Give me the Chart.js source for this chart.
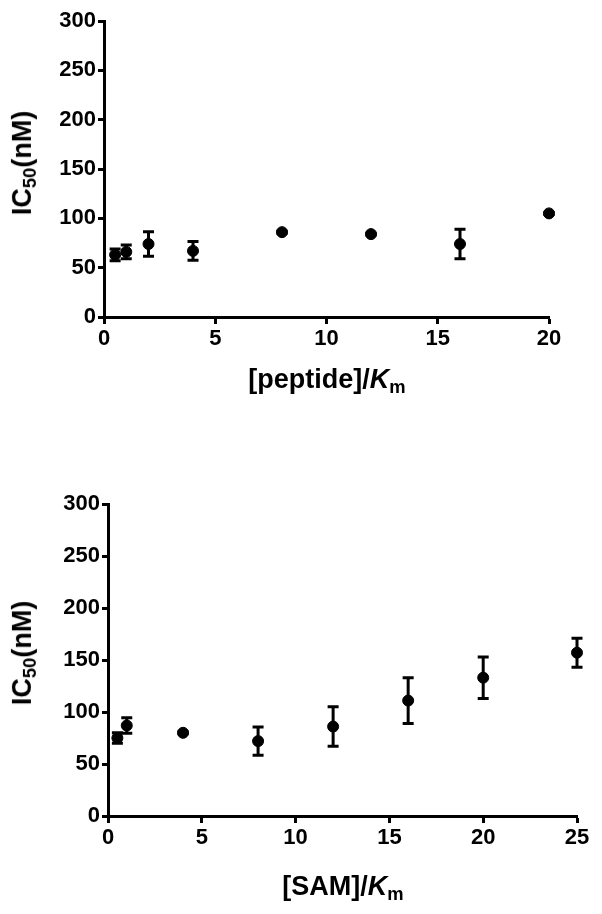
<!DOCTYPE html>
<html>
<head>
<meta charset="utf-8">
<script src="https://cdn.jsdelivr.net/npm/chart.js@4/dist/chart.umd.min.js"></script>
<style>
  body { margin: 0; background: #fff; }
  #page { position: relative; width: 602px; height: 914px; font-family: "Liberation Sans", Arial, sans-serif; }
  .box { position: absolute; left: 0; width: 602px; }
  .ytitle, .xtitle { position: absolute; font-weight: bold; font-size: 27px; color: #000; white-space: nowrap; }
  .ytitle { transform: translate(-50%, -50%) rotate(-90deg); }
  .xtitle { transform: translate(-50%, -50%); }
  sub { font-size: 0.68em; vertical-align: -0.28em; }
</style>
</head>
<body>
<div id="page">
  <div class="box" style="top:0;height:400px"><canvas id="chartPeptide"></canvas></div>
  <div class="box" style="top:400px;height:514px"><canvas id="chartSam"></canvas></div>
  <div class="ytitle" style="left:24px;top:163px">IC<sub>50</sub>(nM)</div>
  <div class="xtitle" style="left:327px;top:381px">[peptide]/<i>K</i><sub>m</sub></div>
  <div class="ytitle" style="left:24px;top:653px">IC<sub>50</sub>(nM)</div>
  <div class="xtitle" style="left:343px;top:888px">[SAM]/<i>K</i><sub>m</sub></div>
</div>
<script>
// peptide titration
const peptideX = [0.5, 1, 2, 4, 8, 12, 16, 20];
const peptideIC50 = [63, 66, 74, 67, 86, 84, 74, 105];
const peptideErr = [6, 7, 12.5, 9.5, 1, 1, 15, 1];

// SAM titration
const samX = [0.5, 1, 4, 8, 12, 16, 20, 25];
const samIC50 = [75, 87, 80, 72, 86, 111, 133, 157];
const samErr = [5, 7.5, 1, 13.5, 19, 22, 20, 14];

const yTicks = [0, 50, 100, 150, 200, 250, 300];

const FONT = '"Liberation Sans", Arial, sans-serif';

// draws vertical error bars using the chart's own scales
const errorBars = {
  id: 'errorBars',
  beforeDatasetsDraw(chart) {
    const ctx = chart.ctx;
    const xs = chart.scales.x, ys = chart.scales.y;
    chart.data.datasets.forEach(ds => {
      ctx.save();
      ctx.strokeStyle = '#000';
      ctx.lineWidth = 3;
      ds.data.forEach((p, i) => {
        const e = ds.errors[i];
        const px = xs.getPixelForValue(p.x);
        const top = ys.getPixelForValue(p.y + e);
        const bot = ys.getPixelForValue(p.y - e);
        ctx.beginPath();
        ctx.moveTo(px, top); ctx.lineTo(px, bot);
        ctx.moveTo(px - 5.5, top); ctx.lineTo(px + 5.5, top);
        ctx.moveTo(px - 5.5, bot); ctx.lineTo(px + 5.5, bot);
        ctx.stroke();
      });
      ctx.restore();
    });
  }
};

function makeChart(id, xs, ys, errs, xMax, pad, yWidth, xHeight) {
  const canvas = document.getElementById(id);
  return new Chart(canvas.getContext('2d'), {
    type: 'scatter',
    data: {
      datasets: [{
        data: xs.map((x, i) => ({ x: x, y: ys[i] })),
        errors: errs,
        backgroundColor: '#000',
        borderColor: '#000',
        borderWidth: 1,
        pointRadius: 5.5,
        pointHoverRadius: 5.5,
        clip: false
      }]
    },
    options: {
      responsive: true,
      maintainAspectRatio: false,
      animation: false,
      layout: { padding: pad },
      plugins: { legend: { display: false }, tooltip: { enabled: false } },
      scales: {
        x: {
          type: 'linear', min: 0, max: xMax,
          afterFit(s) { s.height = xHeight; },
          grid: { drawOnChartArea: false, tickLength: 7, tickWidth: 3, tickColor: '#000' },
          border: { display: true, width: 3, color: '#000' },
          ticks: { stepSize: 5, color: '#000', padding: 2, font: { family: FONT, size: 22, weight: 'bold' } }
        },
        y: {
          type: 'linear', min: 0, max: 300,
          afterFit(s) { s.width = yWidth; },
          afterBuildTicks(s) { s.ticks = yTicks.map(v => ({ value: v })); },
          grid: { drawOnChartArea: false, tickLength: 6, tickWidth: 3, tickColor: '#000' },
          border: { display: true, width: 3, color: '#000' },
          ticks: { color: '#000', padding: 2, font: { family: FONT, size: 22, weight: 'bold' } }
        }
      }
    },
    plugins: [errorBars]
  });
}

makeChart('chartPeptide', peptideX, peptideIC50, peptideErr, 20,
  { top: 21, right: 53, left: 0, bottom: 0 }, 104, 83);
makeChart('chartSam', samX, samIC50, samErr, 25,
  { top: 104, right: 25, left: 0, bottom: 0 }, 108, 98);
</script>
</body>
</html>
